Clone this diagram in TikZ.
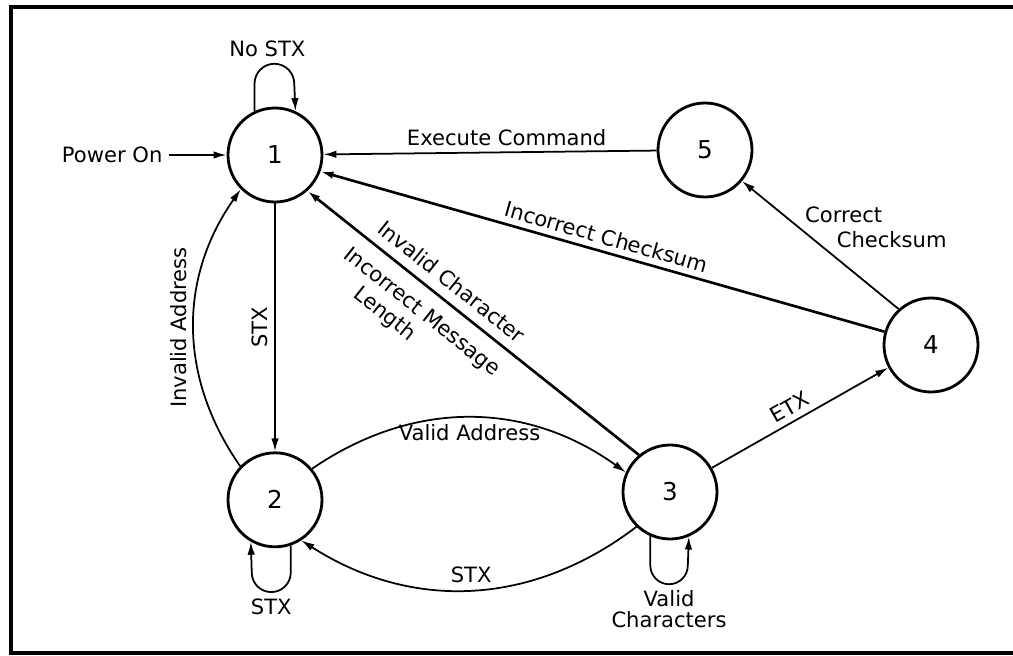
\documentclass[tikz,border=0pt]{standalone}
\usepackage{fontspec}
\setmainfont{DejaVu Sans}
\usetikzlibrary{arrows.meta,positioning,calc}

\begin{document}
\begin{tikzpicture}[
  >={Latex[length=2.6mm,width=1.5mm]},
  every node/.style={align=center, font=\fontsize{12}{14}\selectfont},
  state/.style={circle, draw, line width=1.6pt, minimum size=1.88cm, inner sep=0pt, font=\fontsize{14}{16}\selectfont},
  edge/.style={->, line width=1pt},
  thickedge/.style={->, line width=1.5pt}
]

% --- Frame
\useasboundingbox (0,0) rectangle (20.26,13.1);
\draw[line width=2.3pt] (20.26,12.96) -- (0.22,12.96) -- (0.22,0.04) -- (20.26,0.04);

% --- States
\node[state] (s1) at (5.50,10.00) {1};
\node[state, below=4.96cm of s1] (s2) {2};
\node[state] (s3) at (13.40,3.26) {3};
\node[state] (s4) at (18.62,6.20) {4};
\node[state] (s5) at (14.10,10.10) {5};
\node[left=1.16cm of s1] (pwr) {Power On};

% --- Self loops
\draw[edge] (s1.115) -- ++(0,0.55) arc[start angle=180, end angle=90, radius=0.397]
  node[above, xshift=-0.14cm] {No STX} arc[start angle=90, end angle=0, radius=0.397] -- (s1.65);
\draw[edge] (s2.-71) -- ++(0,-0.54) arc[start angle=0, end angle=-90, radius=0.39]
  node[below] {STX} arc[start angle=-90, end angle=-180, radius=0.39] -- (s2.-120);
\draw[edge] (s3.-114) -- ++(0,-0.585) arc[start angle=180, end angle=270, radius=0.375]
  node[below, font=\fontsize{12}{11.5}\selectfont] {Valid\\Characters}
  arc[start angle=270, end angle=360, radius=0.375] -- (s3.-67);

% --- Transitions
\draw[edge] (pwr) -- (s1);
\draw[edge] (s1) -- (s2) node[midway, rotate=90, above] {STX};
\draw[edge] (s2.136) to[bend left=35] node[midway, rotate=90, above] {Invalid Address} (s1.225);
\draw[edge] (s2.40) to[bend left=35] node[midway, below] {Valid Address} (s3.156);
\draw[edge] (s3.226) to[bend left=35] node[midway, above] {STX} (s2.-57);
\draw[thickedge] (s3.130) -- (s1.-48)
  node[pos=0.6, above=2pt, sloped] {Invalid Character}
  node[pos=0.61, below=4pt, sloped, align=left] {Incorrect Message\\\hspace*{1.5em}Length};
\draw[edge] (s3.30) -- (s4.208) node[pos=0.48, above, sloped] {ETX};
\draw[thickedge] (s4.164) -- (s1.-20) node[midway, above, sloped] {Incorrect Checksum};
\draw[edge] (s4.132) -- (s5.-40) node[pos=0.64, right, align=left] {Correct\\\hspace*{1.5em}Checksum};
\draw[edge] (s5) -- (s1) node[pos=0.45, above] {Execute Command};

\end{tikzpicture}
\end{document}
